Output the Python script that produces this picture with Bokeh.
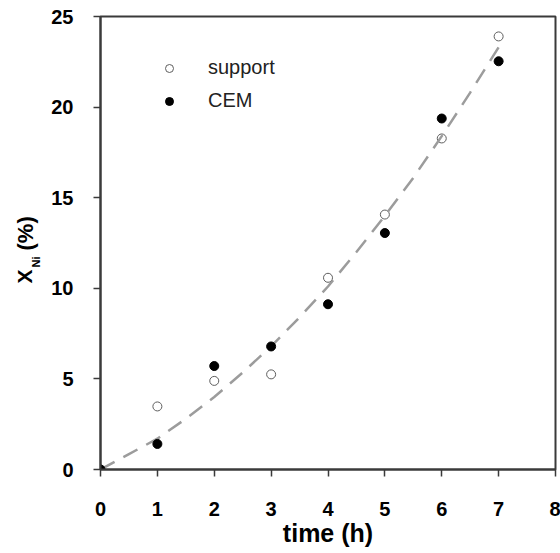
import math

from bokeh.plotting import figure
from bokeh.layouts import row
from bokeh.models import Legend, LegendItem, FixedTicker
from bokeh.core.properties import value
from bokeh.embed import file_html
from bokeh.resources import INLINE

# Nickel conversion over time for the two preparations
time_h = [0, 1, 2, 3, 4, 5, 6, 7]
support = [0, 3.48, 4.89, 5.25, 10.58, 14.07, 18.27, 23.9]
cem = [0, 1.41, 5.71, 6.79, 9.12, 13.05, 19.37, 22.53]

# Dashed trend curve through the data
trend_t = [0, 0.5, 1, 1.5, 2, 2.5, 3, 3.5, 4, 4.5, 5, 5.5, 6, 6.5, 7]
trend_x = [0, 0.85, 1.7, 2.8, 4.0, 5.35, 6.8, 8.4, 10.1, 12.0, 14.0, 16.1, 18.4, 20.8, 23.3]

x_ticks = [0, 1, 2, 3, 4, 5, 6, 7, 8]
y_ticks = [0, 5, 10, 15, 20, 25]

FONT = "Liberation Sans"
AXIS = "#3a3a3a"
W, H = 560, 553
TITLE_W = 45
BORDER_TOP, BORDER_BOTTOM = 16, 84

# ---- narrow strip on the left holding the vertical axis title ----
# The row lines up both frames, so this strip's frame spans the same
# vertical extent as the chart frame; its y range is set so that
# y = H - (pixel row from the top of the page).
t = figure(width=TITLE_W, height=H, x_range=(0, TITLE_W),
           y_range=(BORDER_BOTTOM, H - BORDER_TOP),
           output_backend="svg", toolbar_location=None,
           x_axis_location=None, y_axis_location=None,
           min_border_left=0, min_border_right=0,
           min_border_top=BORDER_TOP, min_border_bottom=BORDER_BOTTOM,
           title=None)
t.outline_line_color = None
t.grid.visible = False
t.background_fill_color = "white"
t.border_fill_color = "white"

def title_piece(text, x, y, size):
    t.text(x=[x], y=[y], text=[text], angle=math.pi / 2,
           text_align="left", text_baseline="middle",
           text_font=value(FONT), text_font_style="bold",
           text_font_size=size, text_color="black")

title_piece("X", 23.5, 270, "21px")
title_piece("Ni", 35, 286, "11px")
title_piece("(%)", 24.5, 303, "22px")

# ---- main chart ----
p = figure(width=W - TITLE_W, height=H, x_range=(0, 8), y_range=(0, 25),
           output_backend="svg", toolbar_location=None,
           min_border_left=100 - TITLE_W, min_border_right=5,
           min_border_top=BORDER_TOP, min_border_bottom=BORDER_BOTTOM)
p.background_fill_color = "white"
p.border_fill_color = "white"
p.grid.visible = False
p.outline_line_color = AXIS
p.outline_line_width = 2

for ax in (p.xaxis[0], p.yaxis[0]):
    ax.axis_line_color = AXIS
    ax.axis_line_width = 2
    ax.major_tick_line_color = AXIS
    ax.major_tick_line_width = 1.5
    ax.major_tick_in = 0
    ax.major_tick_out = 7
    ax.minor_tick_line_color = None
    ax.major_label_text_font = FONT
    ax.major_label_text_font_style = "bold"
    ax.major_label_text_font_size = "20px"
    ax.major_label_text_color = "black"

p.xaxis.ticker = FixedTicker(ticks=x_ticks)
p.yaxis.ticker = FixedTicker(ticks=y_ticks)
p.xaxis.major_label_standoff = 25
p.yaxis.major_label_standoff = 20

p.xaxis.axis_label = "time (h)"
p.xaxis.axis_label_text_font = FONT
p.xaxis.axis_label_text_font_style = "bold"
p.xaxis.axis_label_text_font_size = "25px"
p.xaxis.axis_label_text_color = "black"
p.xaxis.axis_label_standoff = 0

r_support = p.scatter(time_h, support, size=9, marker="circle",
                      fill_color="white", line_color="#5e5e5e", line_width=1)
p.line(trend_t, trend_x, line_color="#9c9c9c", line_width=2.5,
       line_dash="16 10")
r_cem = p.scatter(time_h, cem, size=9, marker="circle",
                  fill_color="black", line_color="black", line_width=1)

legend = Legend(items=[LegendItem(label="support", renderers=[r_support]),
                       LegendItem(label="CEM", renderers=[r_cem])],
                location=(59, 357), orientation="vertical",
                glyph_width=20, glyph_height=20, label_height=20,
                label_standoff=29, spacing=10, padding=0, margin=0,
                border_line_color=None, background_fill_alpha=0,
                label_text_font=FONT, label_text_font_size="20px",
                label_text_color="#222222")
p.add_layout(legend)

layout = row(t, p, spacing=0)
open("out.html", "w").write(file_html(layout, INLINE))
